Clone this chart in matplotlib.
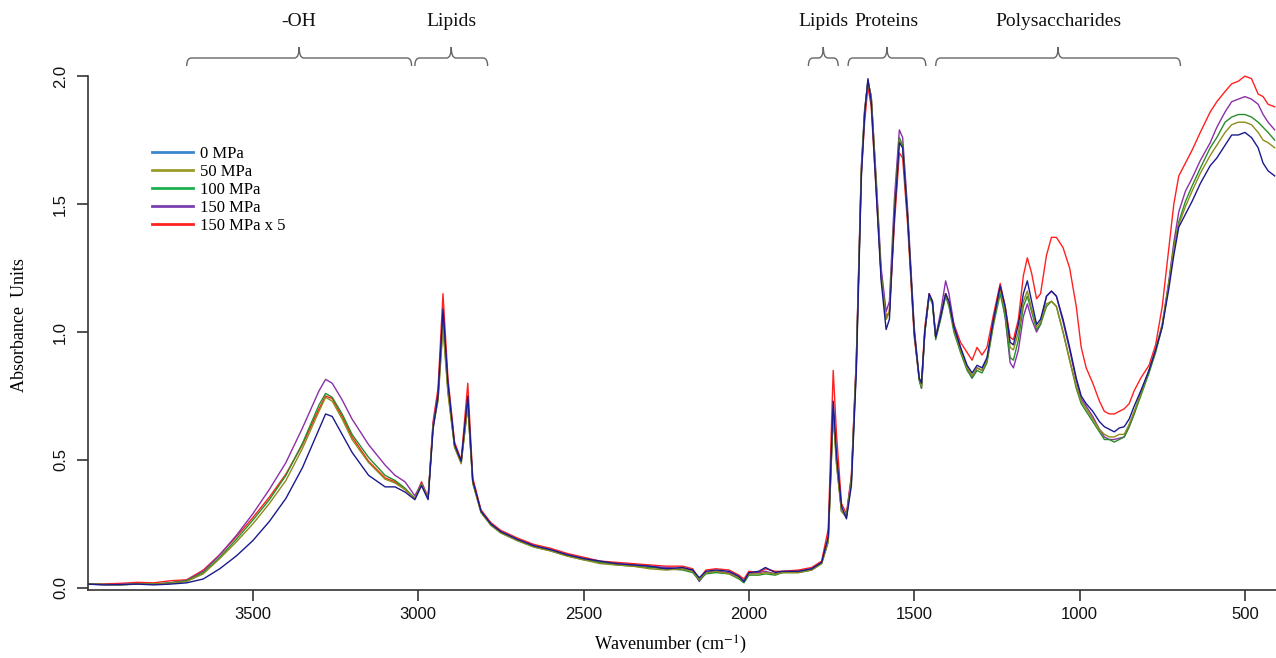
import matplotlib
matplotlib.use("Agg")
import matplotlib.pyplot as plt
from matplotlib.lines import Line2D
from matplotlib.path import Path
from matplotlib.patches import PathPatch
from matplotlib.transforms import blended_transform_factory

# wavenumber (cm-1) and absorbance
wn = [4000, 3950, 3900, 3850, 3800, 3750, 3700, 3650, 3600, 3550, 3500, 3450,
      3400, 3350, 3300, 3280, 3260, 3230, 3200, 3150, 3100, 3070, 3040, 3010,
      2990, 2970, 2955, 2940, 2925, 2910, 2890, 2870, 2850, 2835, 2810, 2780,
      2750, 2700, 2650, 2600, 2550, 2500, 2450, 2400, 2350, 2300, 2250, 2200,
      2170, 2150, 2130, 2100, 2060, 2030, 2015, 2000, 1970, 1950, 1920, 1900,
      1850, 1810, 1780, 1760, 1745, 1735, 1720, 1705, 1690, 1675, 1660, 1650,
      1640, 1630, 1615, 1600, 1585, 1575, 1560, 1545, 1535, 1520, 1500, 1485,
      1478, 1468, 1455, 1445, 1435, 1420, 1405, 1395, 1380, 1360, 1340, 1325,
      1310, 1295, 1280, 1260, 1240, 1225, 1210, 1200, 1185, 1170, 1158, 1145,
      1130, 1118, 1100, 1085, 1070, 1050, 1030, 1010, 995, 980, 960, 940,
      925, 910, 895, 880, 865, 850, 835, 815, 790, 770, 750, 730,
      715, 700, 680, 660, 635, 605, 585, 560, 540, 520, 500, 480,
      460, 445, 430, 410]

mpa0 = [.015, .012, .013, .015, .012, .015, .020, .035, .075, .125, .185, .260,
        .350, .470, .620, .680, .670, .600, .530, .440, .395, .395, .375, .345,
        .400, .345, .620, .750, 1.09, .800, .560, .495, .750, .420, .300, .250,
        .220, .190, .165, .150, .130, .115, .105, .095, .090, .085, .075, .080,
        .070, .040, .065, .070, .065, .045, .025, .060, .065, .080, .060, .065,
        .065, .075, .100, .200, .730, .520, .320, .270, .400, .850, 1.60, 1.85,
        1.99, 1.90, 1.55, 1.20, 1.01, 1.05, 1.45, 1.74, 1.72, 1.45, 1.00, .82,
        .80, 1.00, 1.15, 1.12, .98, 1.06, 1.15, 1.12, 1.02, .94, .87, .84,
        .87, .86, .90, 1.05, 1.18, 1.10, .96, .95, 1.03, 1.15, 1.20, 1.12,
        1.03, 1.05, 1.14, 1.16, 1.14, 1.05, .94, .82, .75, .72, .69, .65,
        .63, .62, .61, .625, .63, .66, .71, .77, .85, .93, 1.02, 1.17,
        1.30, 1.41, 1.46, 1.51, 1.58, 1.65, 1.68, 1.73, 1.77, 1.77, 1.78, 1.76,
        1.72, 1.66, 1.63, 1.61]

mpa50 = [.015, .013, .012, .015, .014, .018, .025, .055, .115, .180, .250, .330,
         .420, .545, .690, .745, .730, .660, .580, .490, .425, .410, .385, .350,
         .405, .350, .630, .730, 1.02, .760, .550, .485, .710, .410, .295, .245,
         .215, .185, .160, .145, .125, .110, .095, .090, .085, .075, .070, .075,
         .065, .035, .060, .065, .055, .040, .030, .055, .055, .060, .055, .060,
         .060, .070, .095, .180, .680, .480, .300, .275, .420, .870, 1.62, 1.86,
         1.98, 1.92, 1.58, 1.22, 1.05, 1.08, 1.47, 1.75, 1.72, 1.45, 1.00, .82,
         .79, 1.00, 1.14, 1.12, .98, 1.06, 1.15, 1.11, 1.01, .93, .86, .83,
         .86, .85, .89, 1.04, 1.17, 1.08, .94, .93, 1.00, 1.12, 1.16, 1.09,
         1.02, 1.04, 1.11, 1.12, 1.10, 1.00, .89, .79, .73, .70, .66, .62,
         .60, .59, .59, .60, .60, .64, .69, .76, .85, .93, 1.03, 1.19,
         1.33, 1.42, 1.49, 1.55, 1.62, 1.69, 1.73, 1.78, 1.81, 1.82, 1.82, 1.81,
         1.78, 1.75, 1.74, 1.72]

mpa100 = [.015, .014, .012, .016, .015, .020, .028, .060, .120, .190, .265, .345,
          .440, .565, .715, .760, .745, .680, .600, .510, .440, .420, .390, .350,
          .405, .350, .630, .740, 1.03, .770, .550, .490, .715, .410, .295, .245,
          .215, .185, .160, .145, .125, .110, .100, .090, .085, .080, .075, .070,
          .060, .030, .055, .060, .055, .035, .020, .050, .050, .055, .050, .060,
          .060, .070, .095, .180, .690, .490, .300, .280, .420, .880, 1.63, 1.86,
          1.98, 1.92, 1.58, 1.22, 1.05, 1.08, 1.47, 1.76, 1.73, 1.45, 1.00, .81,
          .78, 1.00, 1.14, 1.11, .97, 1.05, 1.14, 1.10, 1.00, .92, .85, .82,
          .85, .84, .88, 1.03, 1.15, 1.06, .90, .89, .97, 1.10, 1.14, 1.08,
          1.01, 1.03, 1.10, 1.12, 1.10, 1.00, .89, .78, .72, .69, .65, .61,
          .58, .58, .57, .58, .59, .63, .68, .75, .84, .92, 1.02, 1.19,
          1.33, 1.43, 1.51, 1.57, 1.64, 1.72, 1.76, 1.82, 1.84, 1.85, 1.85, 1.84,
          1.82, 1.80, 1.78, 1.75]

mpa150 = [.015, .013, .014, .016, .015, .020, .030, .065, .130, .205, .290, .385,
          .490, .625, .770, .815, .800, .735, .660, .560, .480, .440, .415, .360,
          .410, .350, .640, .760, 1.07, .780, .560, .495, .720, .415, .300, .250,
          .220, .190, .165, .150, .130, .115, .100, .095, .090, .085, .080, .075,
          .070, .025, .060, .065, .060, .040, .030, .055, .060, .065, .055, .060,
          .065, .075, .100, .190, .700, .500, .300, .285, .430, .900, 1.65, 1.87,
          1.98, 1.92, 1.60, 1.25, 1.08, 1.12, 1.52, 1.79, 1.76, 1.48, 1.02, .82,
          .78, 1.00, 1.14, 1.12, .98, 1.08, 1.20, 1.15, 1.03, .94, .86, .82,
          .86, .85, .89, 1.05, 1.18, 1.06, .88, .86, .93, 1.06, 1.11, 1.05,
          1.00, 1.03, 1.14, 1.16, 1.14, 1.04, .93, .81, .74, .71, .67, .62,
          .59, .58, .58, .585, .59, .63, .68, .76, .85, .93, 1.03, 1.20,
          1.35, 1.47, 1.55, 1.60, 1.67, 1.74, 1.80, 1.86, 1.90, 1.91, 1.92, 1.91,
          1.89, 1.85, 1.82, 1.79]

mpa150x5 = [.015, .016, .018, .022, .020, .028, .032, .070, .130, .200, .275, .355,
            .445, .560, .700, .750, .740, .670, .590, .495, .430, .415, .385, .350,
            .415, .355, .650, .780, 1.15, .820, .570, .500, .800, .430, .305, .255,
            .225, .195, .170, .155, .135, .120, .105, .100, .095, .090, .085, .085,
            .075, .035, .070, .075, .070, .050, .035, .065, .060, .075, .065, .065,
            .070, .080, .105, .230, .850, .600, .330, .290, .440, .900, 1.62, 1.82,
            1.96, 1.88, 1.55, 1.22, 1.06, 1.08, 1.42, 1.70, 1.68, 1.42, .98, .82,
            .80, 1.02, 1.15, 1.12, .98, 1.06, 1.15, 1.12, 1.03, .96, .92, .89,
            .94, .91, .94, 1.07, 1.19, 1.10, .98, .97, 1.05, 1.22, 1.29, 1.23,
            1.13, 1.15, 1.30, 1.37, 1.37, 1.33, 1.25, 1.10, .94, .86, .80, .73,
            .69, .68, .68, .69, .70, .72, .77, .82, .87, .95, 1.10, 1.33,
            1.50, 1.61, 1.66, 1.71, 1.78, 1.86, 1.90, 1.94, 1.97, 1.98, 2.00, 1.99,
            1.93, 1.92, 1.89, 1.88]

labels = ["0 MPa", "50 MPa", "100 MPa", "150 MPa", "150 MPa x 5"]
line_colors = ["#1a1a8e", "#8c8c1a", "#2a8c2a", "#8a30a8", "#ff2020"]
legend_colors = ["#3a86d0", "#9a9a2a", "#1db050", "#7a3fb0", "#ff2020"]

# (high wavenumber, low wavenumber, label) of the band groups on top
groups = [(3700, 3020, "-OH"), (3010, 2790, "Lipids"), (1820, 1730, "Lipids"),
          (1700, 1465, "Proteins"), (1435, 695, "Polysaccharides")]

W, H = 1276, 658
fig = plt.figure(figsize=(W / 100, H / 100), dpi=100)
ax = fig.add_axes([87.5 / W, 1 - 590 / H, 1 - 87.5 / W, 519 / H])

series = [mpa0, mpa50, mpa100, mpa150, mpa150x5]
for i in [4, 3, 2, 1, 0]:
    ax.plot(wn, series[i], color=line_colors[i], lw=1.0)

ax.set_xlim(4000, 406)
ax.set_ylim(-0.008, 2.02)
ax.set_xticks([3500, 3000, 2500, 2000, 1500, 1000, 500])
ax.set_yticks([0.0, 0.5, 1.0, 1.5, 2.0])
ax.set_yticklabels(["0.0", "0.5", "1.0", "1.5", "2.0"], rotation=90, va="center")
for s in ["top", "right"]:
    ax.spines[s].set_visible(False)
ax.spines["left"].set_bounds(-0.008, 2.0)
for s in ["left", "bottom"]:
    ax.spines[s].set_linewidth(1.2)
    ax.spines[s].set_color("#333333")
ax.tick_params(direction="out", length=8, width=1.2, color="#333333",
               labelsize=12, labelcolor="#111111")
ax.tick_params(axis="x", pad=4)
ax.tick_params(axis="y", pad=6)
for t in ax.get_xticklabels() + ax.get_yticklabels():
    t.set_fontfamily("Liberation Sans")

plt.rcParams["mathtext.fontset"] = "stix"
fig.text(670 / W, 1 - 645 / H, "Wavenumber (cm$^{-1}$)", ha="center", va="center",
         fontsize=13, family="Liberation Serif")
fig.text(20 / W, 1 - 325 / H, "Absorbance  Units", ha="center", va="center",
         rotation=90, fontsize=13, family="Liberation Serif")

handles = [Line2D([], [], color=c, lw=2) for c in legend_colors]
ax.legend(handles, labels, loc="upper left", bbox_to_anchor=(152 / W, 1 - 146 / H),
          bbox_transform=fig.transFigure, frameon=False, borderpad=0,
          borderaxespad=0, handlelength=2.45, handletextpad=0.45,
          labelspacing=0.12, prop={"family": "Liberation Serif", "size": 12})

# curly braces over the band groups
trans = blended_transform_factory(ax.transData, fig.transFigure)
y_end, y_line, y_tip = 1 - 66 / H, 1 - 58 / H, 1 - 47 / H
r = 14
for hi, lo, name in groups:
    xm = (hi + lo) / 2
    verts = [(hi, y_end), (hi, y_line), (hi - r, y_line), (xm + r, y_line),
             (xm, y_line), (xm, y_tip), (xm, y_line), (xm - r, y_line),
             (lo + r, y_line), (lo, y_line), (lo, y_end)]
    codes = [Path.MOVETO, Path.CURVE3, Path.CURVE3, Path.LINETO,
             Path.CURVE3, Path.CURVE3, Path.CURVE3, Path.CURVE3,
             Path.LINETO, Path.CURVE3, Path.CURVE3]
    ax.add_patch(PathPatch(Path(verts, codes), transform=trans, fill=False,
                           edgecolor="#666666", lw=1.0, clip_on=False))
    ax.text(xm, 1 - 22 / H, name, transform=trans, ha="center", va="center",
            fontsize=14, family="Liberation Serif", color="#111111")

fig.savefig("out.png", dpi=100)
